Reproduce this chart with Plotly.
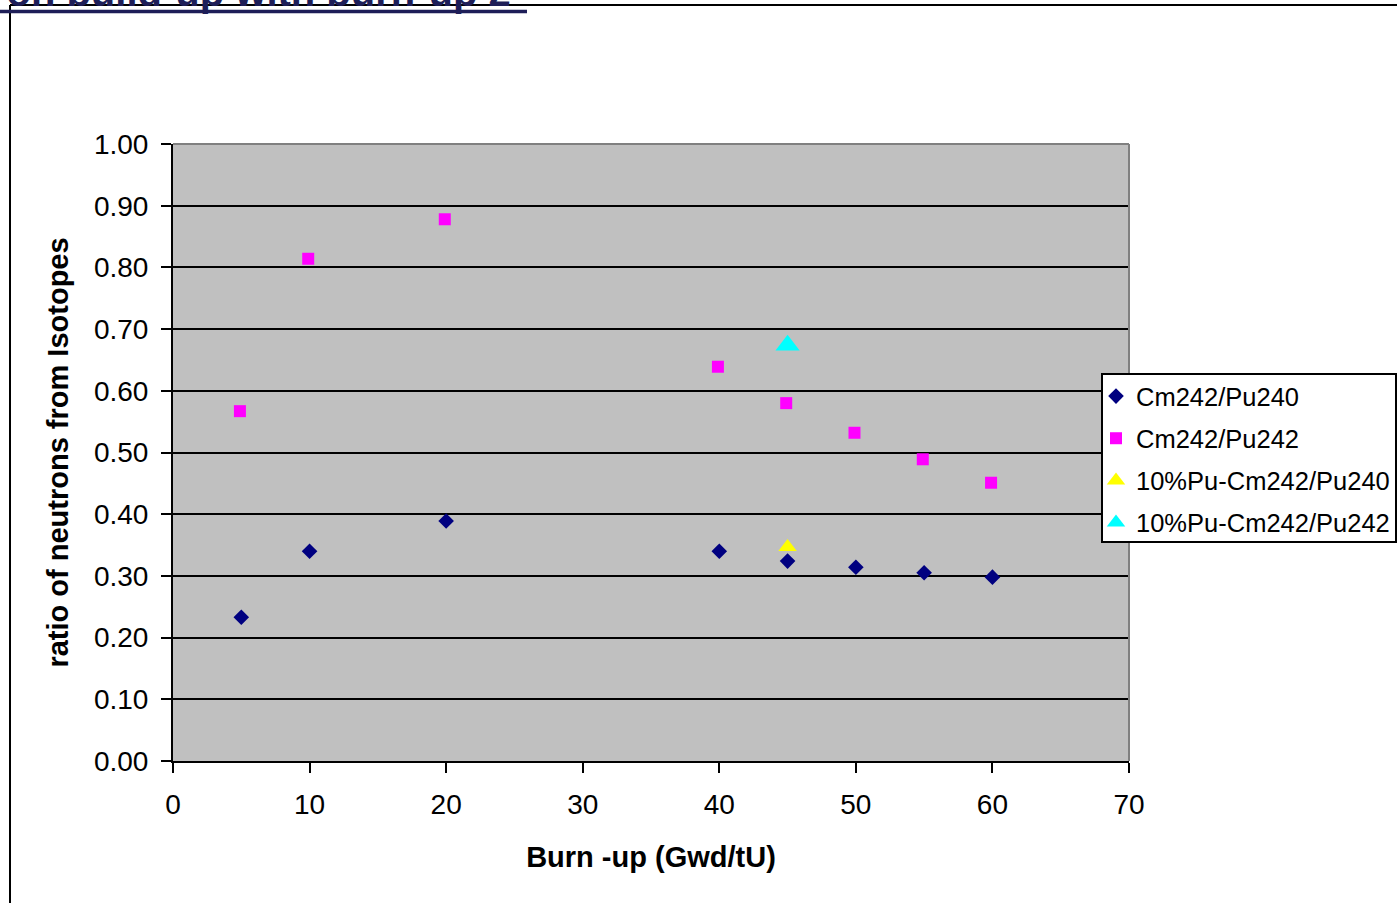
import plotly.graph_objects as go

# ---- data ----
burnup = [5, 10, 20, 40, 45, 50, 55, 60]
cm242_pu240 = [0.233, 0.340, 0.389, 0.340, 0.324, 0.314, 0.305, 0.298]
burnup_sq = [4.9, 9.9, 19.9, 39.9, 44.9, 49.9, 54.9, 59.9]
cm242_pu242 = [0.567, 0.814, 0.878, 0.639, 0.580, 0.532, 0.489, 0.451]
pu10_x = [45]
pu10_cm242_pu240 = [0.347]
pu10_cm242_pu242 = [0.674]

x_ticks = [0, 10, 20, 30, 40, 50, 60, 70]
y_ticks = [0.0, 0.1, 0.2, 0.3, 0.4, 0.5, 0.6, 0.7, 0.8, 0.9, 1.0]

W, H = 1397, 903
L, R, T, B = 173, 1129, 144, 761


def px(x):
    return (x - L) / (R - L)


def py(y):
    return (B - y) / (B - T)


FONT = "Liberation Sans, Arial, sans-serif"
NAVY_TITLE = "#1e1e58"

fig = go.Figure()
fig.add_trace(go.Scatter(x=burnup, y=cm242_pu240, mode="markers", name="Cm242/Pu240",
                         marker=dict(symbol="diamond", size=12, color="#000080"),
                         legendgroup="a"))
fig.add_trace(go.Scatter(x=burnup_sq, y=cm242_pu242, mode="markers", name="Cm242/Pu242",
                         marker=dict(symbol="square", size=12, color="#ff00ff"),
                         legendgroup="b"))
fig.add_trace(go.Scatter(x=pu10_x, y=pu10_cm242_pu240, mode="markers", name="10%Pu-Cm242/Pu240",
                         marker=dict(symbol="triangle-up", size=16, color="#ffff00"),
                         legendgroup="c"))
fig.add_trace(go.Scatter(x=pu10_x, y=pu10_cm242_pu242, mode="markers", name="10%Pu-Cm242/Pu242",
                         marker=dict(symbol="triangle-up", size=21, color="#00ffff"),
                         legendgroup="d"))

fig.update_layout(
    width=W, height=H,
    margin=dict(l=L, r=W - R, t=T, b=H - B, pad=0, autoexpand=False),
    paper_bgcolor="white",
    plot_bgcolor="#c0c0c0",
    font=dict(family=FONT, color="black", size=28),
    showlegend=True,
    legend=dict(x=px(1096), y=py(373), xanchor="left", yanchor="top",
                bgcolor="rgba(0,0,0,0)", borderwidth=0,
                font=dict(size=25.5, family=FONT), tracegroupgap=6,
                itemsizing="trace"),
    xaxis=dict(range=[0, 70], tickvals=x_ticks, ticktext=[str(v) for v in x_ticks],
               showgrid=False, zeroline=False, showline=True, linecolor="black", linewidth=2,
               ticks="outside", ticklen=10, tickwidth=2, tickcolor="black",
               tickfont=dict(size=28), ticklabelstandoff=7,
               title=dict(text="<b>Burn -up (Gwd/tU)</b>", font=dict(size=29), standoff=28)),
    yaxis=dict(range=[0, 1.0], tickvals=y_ticks, ticktext=["%.2f" % v for v in y_ticks],
               showgrid=True, gridcolor="black", gridwidth=2, zeroline=False,
               showline=True, linecolor="black", linewidth=2,
               ticks="outside", ticklen=10, tickwidth=2, tickcolor="black",
               tickfont=dict(size=28), ticklabelstandoff=7,
               title=dict(text="<b>ratio of neutrons from Isotopes</b>", font=dict(size=29), standoff=17)),
)

shapes = [
    # plot area top/right border (gray)
    dict(type="line", xref="paper", yref="paper", x0=0, x1=1, y0=1, y1=1,
         line=dict(color="#808080", width=2)),
    dict(type="line", xref="paper", yref="paper", x0=1, x1=1, y0=0, y1=1,
         line=dict(color="#808080", width=2)),
    # legend box
    dict(type="rect", xref="paper", yref="paper", x0=px(1102), x1=px(1396), y0=py(542), y1=py(374),
         fillcolor="white", line=dict(color="black", width=2), layer="above"),
    # outer frame lines
    dict(type="line", xref="paper", yref="paper", x0=px(10), x1=px(10), y0=py(5), y1=py(905),
         line=dict(color="black", width=2)),
    dict(type="line", xref="paper", yref="paper", x0=px(10), x1=px(1400), y0=py(5), y1=py(5),
         line=dict(color="black", width=2)),
    # title underline
    dict(type="line", xref="paper", yref="paper", x0=px(-5), x1=px(527), y0=py(11.5), y1=py(11.5),
         line=dict(color=NAVY_TITLE, width=3.5)),
]
fig.update_layout(shapes=shapes)

fig.add_annotation(text="<b>Neutron build-up with burn-up 2</b>", xref="paper", yref="paper",
                   x=px(513), y=py(16), xanchor="right", yanchor="bottom", showarrow=False,
                   font=dict(size=40, color=NAVY_TITLE, family=FONT))

fig.write_html("out.html")
